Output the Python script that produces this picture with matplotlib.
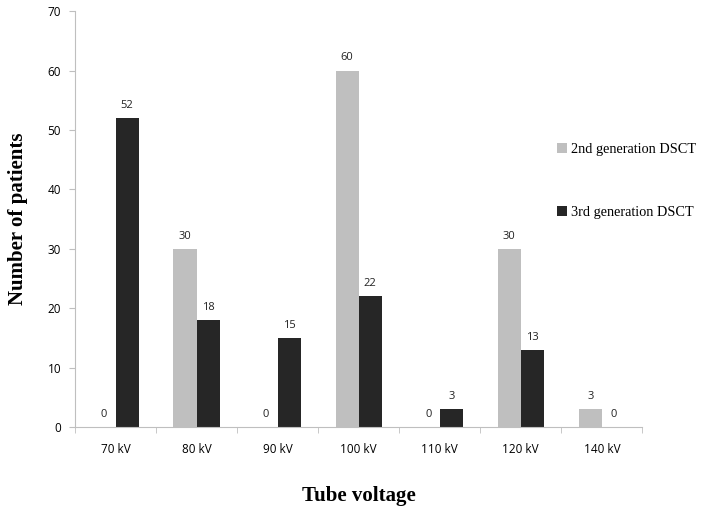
import matplotlib.pyplot as plt
import numpy as np

categories = ['70 kV', '80 kV', '90 kV', '100 kV', '110 kV', '120 kV', '140 kV']
gen2 = [0, 30, 0, 60, 0, 30, 3]
gen3 = [52, 18, 15, 22, 3, 13, 0]

fig = plt.figure(figsize=(7.04, 5.08), dpi=100)
ax = fig.add_axes([0.1065, 0.159, 0.806, 0.819])

x = np.arange(len(categories))
w = 0.285
b2 = ax.bar(x - w/2, gen2, w, color='#bfbfbf', label='2nd generation DSCT')
b3 = ax.bar(x + w/2, gen3, w, color='#262626', label='3rd generation DSCT')

for bars in (b2, b3):
    for r in bars:
        h = r.get_height()
        ax.text(r.get_x() + r.get_width()/2, h + 1.2, f'{int(h)}', ha='center', va='bottom',
                fontsize=8, family='Open Sans', color='#222222')

ax.set_xlim(-0.5, len(categories) - 0.5)
ax.set_ylim(0, 70)
ax.set_yticks(range(0, 71, 10))
ax.set_xticks(x)
ax.set_xticklabels(categories, fontsize=8.5, family='Open Sans')
ax.set_xticks(np.arange(-0.5, len(categories), 1), minor=True)
ax.tick_params(axis='x', which='major', length=0, pad=11)
ax.tick_params(axis='x', which='minor', length=4, color='#bfbfbf')
ax.tick_params(axis='y', length=4, color='#bfbfbf', labelsize=8.5, pad=6)
for lab in ax.get_yticklabels():
    lab.set_family('Open Sans')

for s in ['top', 'right']:
    ax.spines[s].set_visible(False)
for s in ['left', 'bottom']:
    ax.spines[s].set_color('#bfbfbf')

ax.set_xlabel('Tube voltage', fontsize=15, fontweight='bold', family='Liberation Serif', labelpad=22)
ax.set_ylabel('Number of patients', fontsize=15, fontweight='bold', family='Liberation Serif', labelpad=14)

ax.legend(loc='upper left', bbox_to_anchor=(0.827, 0.715), frameon=False, handlelength=0.7,
          handleheight=0.7, handletextpad=0.3, labelspacing=3.5,
          prop={'family': 'Liberation Serif', 'size': 10.3})

fig.savefig('out.png', dpi=100)
